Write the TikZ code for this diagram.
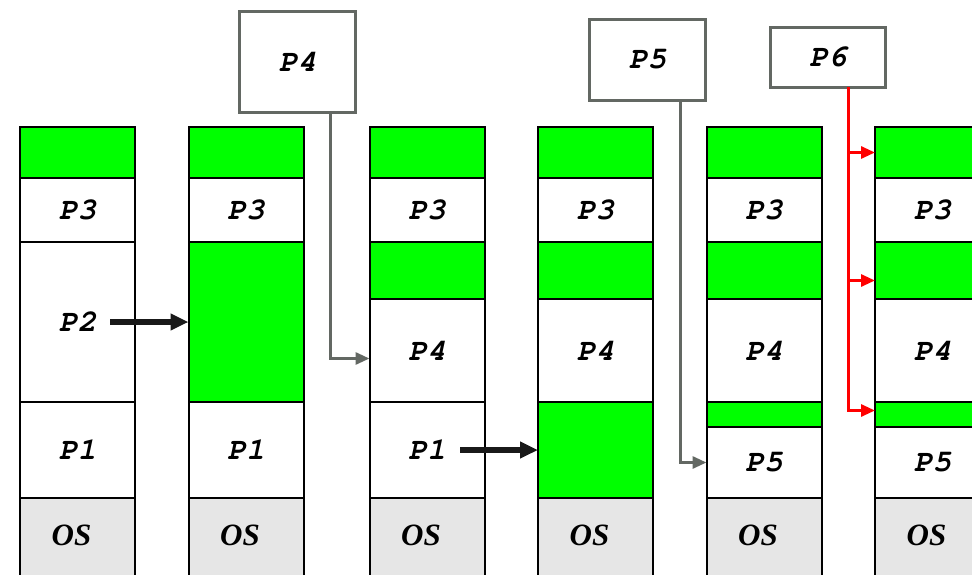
\documentclass[tikz,border=0pt]{standalone}
\usepackage[T1]{fontenc}
\usepackage{fontspec}
\usetikzlibrary{positioning,arrows.meta}
\newfontfamily\serfont{Liberation Serif}
\newcommand\plbl{\fontencoding{T1}\fontfamily{pcr}\fontseries{b}\fontshape{sl}\fontsize{31}{31}\selectfont}
\newcommand\oslbl{\serfont\bfseries\itshape\fontsize{31}{31}\selectfont}
\definecolor{holegreen}{HTML}{00FF00}
\definecolor{osgray}{HTML}{E6E6E6}
\definecolor{jobgray}{HTML}{636863}
\definecolor{fitred}{HTML}{FF0000}
\tikzset{
  seg/.style={draw=black, line width=2pt, minimum width=115pt, inner sep=0pt, outer sep=0pt, font=\plbl},
  hole/.style={seg, fill=holegreen},
  free/.style={seg, fill=white},
  ossg/.style={seg, fill=osgray, font=\oslbl},
  job/.style={draw=jobgray, line width=3pt, fill=white, inner sep=0pt, outer sep=0pt, font=\plbl},
  shiftarrow/.style={draw=black!90, line width=6pt, -{Triangle[length=18pt,width=16pt]}},
  loadarrow/.style={draw=jobgray, line width=3pt, -{Triangle[length=14pt,width=12pt]}},
  fitarrow/.style={draw=fitred, line width=3pt, -{Triangle[length=14pt,width=12pt]}},
}
\begin{document}
\begin{tikzpicture}[x=1pt,y=-1pt]
      \clip (0,0) rectangle (972,575);

      % column 1
      \node[hole, minimum height=51pt, anchor=north] (c1g1) at (77.5,127) {};
      \node[free, minimum height=64pt, below=0pt of c1g1] (c1p3) {P3};
      \node[free, minimum height=160pt, below=0pt of c1p3] (c1p2) {P2};
      \node[free, minimum height=96pt, below=0pt of c1p2] (c1p1) {P1};
      \node[ossg, minimum height=78pt, below=0pt of c1p1] (c1os) {\raisebox{4pt}{OS}\kern12pt};

      % column 2
      \node[hole, minimum height=51pt, anchor=north] (c2g1) at (246,127) {};
      \node[free, minimum height=64pt, below=0pt of c2g1] (c2p3) {P3};
      \node[hole, minimum height=160pt, below=0pt of c2p3] (c2g2) {};
      \node[free, minimum height=96pt, below=0pt of c2g2] (c2p1) {P1};
      \node[ossg, minimum height=78pt, below=0pt of c2p1] (c2os) {\raisebox{4pt}{OS}\kern12pt};

      % column 3
      \node[hole, minimum height=51pt, anchor=north] (c3g1) at (427,127) {};
      \node[free, minimum height=64pt, below=0pt of c3g1] (c3p3) {P3};
      \node[hole, minimum height=57pt, below=0pt of c3p3] (c3g2) {};
      \node[free, minimum height=103pt, below=0pt of c3g2] (c3p4) {P4};
      \node[free, minimum height=96pt, below=0pt of c3p4] (c3p1) {P1};
      \node[ossg, minimum height=78pt, below=0pt of c3p1] (c3os) {\raisebox{4pt}{OS}\kern12pt};

      % column 4
      \node[hole, minimum height=51pt, anchor=north] (c4g1) at (595.5,127) {};
      \node[free, minimum height=64pt, below=0pt of c4g1] (c4p3) {P3};
      \node[hole, minimum height=57pt, below=0pt of c4p3] (c4g2) {};
      \node[free, minimum height=103pt, below=0pt of c4g2] (c4p4) {P4};
      \node[hole, minimum height=96pt, below=0pt of c4p4] (c4g3) {};
      \node[ossg, minimum height=78pt, below=0pt of c4g3] (c4os) {\raisebox{4pt}{OS}\kern12pt};

      % column 5
      \node[hole, minimum height=51pt, anchor=north] (c5g1) at (764,127) {};
      \node[free, minimum height=64pt, below=0pt of c5g1] (c5p3) {P3};
      \node[hole, minimum height=57pt, below=0pt of c5p3] (c5g2) {};
      \node[free, minimum height=103pt, below=0pt of c5g2] (c5p4) {P4};
      \node[hole, minimum height=25pt, below=0pt of c5p4] (c5g3) {};
      \node[free, minimum height=71pt, below=0pt of c5g3] (c5p5) {P5};
      \node[ossg, minimum height=78pt, below=0pt of c5p5] (c5os) {\raisebox{4pt}{OS}\kern12pt};

      % column 6
      \node[hole, minimum height=51pt, anchor=north] (c6g1) at (932.5,127) {};
      \node[free, minimum height=64pt, below=0pt of c6g1] (c6p3) {P3};
      \node[hole, minimum height=57pt, below=0pt of c6p3] (c6g2) {};
      \node[free, minimum height=103pt, below=0pt of c6g2] (c6p4) {P4};
      \node[hole, minimum height=25pt, below=0pt of c6p4] (c6g3) {};
      \node[free, minimum height=71pt, below=0pt of c6g3] (c6p5) {P5};
      \node[ossg, minimum height=78pt, below=0pt of c6p5] (c6os) {\raisebox{4pt}{OS}\kern12pt};

      % incoming jobs
      \node[job, minimum width=116pt, minimum height=101pt] (p4job) at (297.5,62) {P4};
      \node[job, minimum width=116pt, minimum height=81pt] (p5job) at (647.5,60) {P5};
      \node[job, minimum width=115pt, minimum height=60pt] (p6job) at (828,57.5) {P6};

      \draw[shiftarrow] ([xshift=32.5pt]c1p2.center) -- (c2g2.west);
      \draw[shiftarrow] ([xshift=33pt]c3p1.center) -- (c4g3.west);

      \draw[loadarrow] ([xshift=32.5pt]p4job.south) |- ([yshift=-8pt]c3p4.west);
      \draw[loadarrow] ([xshift=32.5pt]p5job.south) |- (c5p5.west);

      \coordinate (p6stem) at ([xshift=20pt]p6job.south);
      \coordinate (g2tip) at ([yshift=-10pt]c6g2.west);
      \draw[fitarrow] (p6stem) |- ([yshift=4pt]c6g3.west);
      \draw[fitarrow] (p6stem |- c6g1.west) -- (c6g1.west);
      \draw[fitarrow] (p6stem |- g2tip) -- (g2tip);
    \end{tikzpicture}
\end{document}
